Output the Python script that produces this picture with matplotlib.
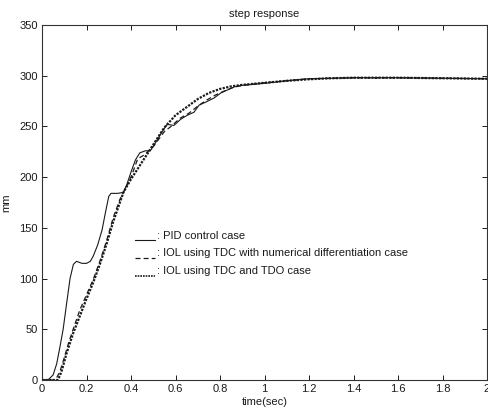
import matplotlib
matplotlib.use("Agg")
import matplotlib.pyplot as plt

plt.rcParams['font.family'] = ['Liberation Sans', 'DejaVu Sans']

# ---- data ----
t_pid = [0, 0.027, 0.05, 0.066, 0.081, 0.095, 0.111, 0.126, 0.141, 0.155, 0.18, 0.2,
         0.217, 0.23, 0.25, 0.27, 0.285, 0.3, 0.31, 0.34, 0.366, 0.38, 0.4, 0.42,
         0.44, 0.465, 0.487, 0.51, 0.54, 0.563, 0.593, 0.623, 0.653, 0.683, 0.706,
         0.736, 0.773, 0.804, 0.834, 0.864, 0.9, 1.0, 1.1, 1.2, 1.4, 1.6, 1.8, 2.0]
y_pid = [0, 0, 5, 16, 33, 50, 76, 100, 114, 117, 115, 115,
         117, 122, 133, 148, 165, 181, 184, 184, 185, 192, 205, 217,
         224, 226, 226, 234, 245, 252, 251, 257, 261, 264, 271,
         274, 278, 283, 286, 289, 290.5, 292.5, 295, 297, 298, 298, 297.5, 297]

t_tdc = [0, 0.06, 0.08, 0.1, 0.12, 0.14, 0.17, 0.2, 0.23, 0.26, 0.29, 0.32, 0.35,
         0.366, 0.4, 0.43, 0.46, 0.5, 0.55, 0.58, 0.62, 0.66, 0.7, 0.74, 0.78,
         0.82, 0.86, 0.9, 1.0, 1.2, 1.4, 1.6, 2.0]
y_tdc = [0, 0, 8, 22, 37, 50, 69, 84, 99, 117, 137, 160, 178,
         185, 200, 218, 222, 230, 245, 250, 258, 263, 270, 276, 281,
         285, 288.5, 290.5, 293, 297, 298, 298, 297]

t_tdo = [0, 0.07, 0.08, 0.09, 0.1, 0.11, 0.14, 0.17, 0.2, 0.23, 0.26, 0.29, 0.32,
         0.366, 0.4, 0.45, 0.5, 0.55, 0.6, 0.65, 0.7, 0.75, 0.8, 0.85, 0.9, 0.95,
         1.0, 1.1, 1.2, 1.3, 1.4, 1.6, 1.8, 2.0]
y_tdo = [0, 0, 4, 10, 18, 26, 46, 63, 80, 96, 114, 134, 156,
         185, 198, 215, 232, 249, 261, 269, 277, 283, 287, 289.5, 291, 292,
         293, 295, 296.5, 297.5, 298, 298, 297.5, 297]

labels = [': PID control case',
          ': IOL using TDC with numerical differentiation case',
          ': IOL using TDC and TDO case']
x_ticks = [0, 0.2, 0.4, 0.6, 0.8, 1, 1.2, 1.4, 1.6, 1.8, 2]
x_ticklabels = ['0', '0.2', '0.4', '0.6', '0.8', '1', '1.2', '1.4', '1.6', '1.8', '2']
y_ticks = [0, 50, 100, 150, 200, 250, 300, 350]

fig = plt.figure(figsize=(4.89, 4.11), dpi=100)
ax = fig.add_axes([42/489, 31/411, 445/489, 355/411])

ink = '#1a1a1a'
ax.plot(t_tdo, y_tdo, linestyle=(0, (1, 0.6)), color=ink, linewidth=1.6)
ax.plot(t_tdc, y_tdc, linestyle=(0, (4, 2.5)), color=ink, linewidth=0.9)
ax.plot(t_pid, y_pid, linestyle='-', color=ink, linewidth=0.8)

ax.set_xlim(0, 2)
ax.set_ylim(0, 350)
ax.set_xticks(x_ticks)
ax.set_xticklabels(x_ticklabels)
ax.set_yticks(y_ticks)
ax.tick_params(direction='in', length=3.5, width=0.7, labelsize=8, pad=3,
               top=True, right=True, colors=ink)
for s in ax.spines.values():
    s.set_linewidth(0.8)
    s.set_color('#333333')

ax.set_title('step response', fontsize=8, pad=6, color=ink)
ax.set_xlabel('time(sec)', fontsize=8, labelpad=2, color=ink)
ax.set_ylabel('mm', fontsize=8, labelpad=6, color=ink)

# manual legend (axes coordinates)
leg_y = [0.407, 0.357, 0.306]
styles = ['-', (0, (4, 2.5)), (0, (1, 0.6))]
widths = [0.8, 0.9, 1.2]
for yy, st, lw, lab in zip(leg_y, styles, widths, labels):
    ax.plot([0.209, 0.254], [yy - 0.012, yy - 0.012], transform=ax.transAxes,
            linestyle=st, color=ink, linewidth=lw)
    ax.text(0.258, yy, lab, transform=ax.transAxes, fontsize=8,
            va='center', ha='left', color=ink)

fig.savefig('out.png', dpi=100)
